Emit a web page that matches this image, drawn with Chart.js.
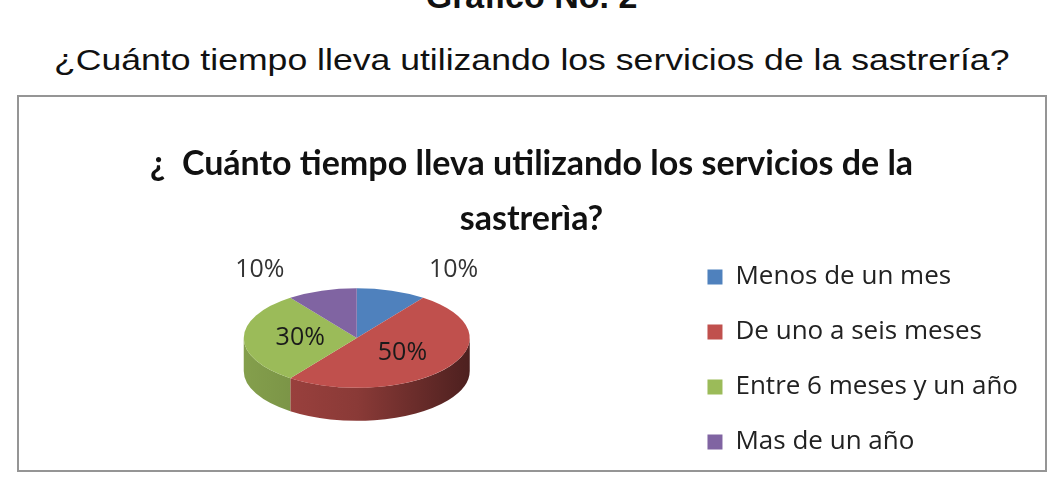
<!DOCTYPE html>
<html>
<head>
<meta charset="utf-8">
<script src="https://cdn.jsdelivr.net/npm/chart.js@4.4.0/dist/chart.umd.min.js"></script>
<style>
  body { margin: 0; background: #fff; width: 1063px; height: 485px; overflow: hidden; position: relative;
         font-family: "Liberation Sans", Arial, sans-serif; }
  #head { position: absolute; left: 0; top: -21px; width: 1063px; text-align: center;
          font-weight: bold; font-size: 34px; line-height: 34px; color: #111; }
  #sub { position: absolute; left: 0; top: 42px; width: 1063px; text-align: center;
         font-size: 30px; line-height: 36px; color: #111; white-space: nowrap; }
  #sub span { display: inline-block; transform-origin: center; }
  #box { position: absolute; left: 17px; top: 95px; width: 1026px; height: 373px; border: 2px solid #959595; }
  #box canvas { position: absolute; left: 0; top: 0; }
</style>
</head>
<body>
<div id="head">Gráfico No. 2</div>
<div id="sub"><span id="subText">¿Cuánto tiempo lleva utilizando los servicios de la sastrería?</span></div>
<div id="box"><canvas id="pieChart" width="1026" height="388"></canvas></div>
<script>
// ---- data ----
const categories = ["Menos de un mes", "De uno a seis meses", "Entre 6 meses y un año", "Mas de un año"];
const values = [10, 50, 30, 10];
const pctLabels = ["10%", "50%", "30%", "10%"];
const colors = ["#4F81BD", "#C0504D", "#9BBB59", "#8064A2"];
const titleLines = ["¿  Cuánto tiempo lleva utilizando los servicios de la", "sastrerìa?"];

// squeeze the page subtitle to the width it has in the document
const sub = document.getElementById("subText");
sub.style.transform = "scaleX(" + (955 / sub.offsetWidth) + ")";

const TILT = 0.44;    // ellipse height / width
const DEPTH = 33;     // thickness of the pie

function shade(hex, f) {
  const n = parseInt(hex.slice(1), 16);
  const r = (n >> 16) & 255, g = (n >> 8) & 255, b = n & 255;
  return "rgb(" + Math.round(r * f) + "," + Math.round(g * f) + "," + Math.round(b * f) + ")";
}

function pieGeom(chart) {
  const a0 = chart.getDatasetMeta(0).data[0];
  const rx = a0.outerRadius;
  return { ox: a0.x, oy: a0.y, cx: a0.x, cy: a0.y - DEPTH * 0.65, rx: rx, ry: rx * TILT };
}

// fake 3d pie: walls drawn first, then the library arcs squashed into an ellipse
const pie3d = {
  id: "pie3d",
  beforeDatasetsDraw(chart) {
    const ctx = chart.ctx;
    const arcs = chart.getDatasetMeta(0).data;
    const p = pieGeom(chart);
    ctx.save();
    arcs.forEach(function(arc, i) {
      // only the front half of the rim is visible
      for (let k = -1; k <= 1; k++) {
        const lo = Math.max(arc.startAngle, 2 * Math.PI * k);
        const hi = Math.min(arc.endAngle, 2 * Math.PI * k + Math.PI);
        if (hi <= lo) continue;
        const g = ctx.createLinearGradient(p.cx - p.rx, 0, p.cx + p.rx, 0);
        g.addColorStop(0, shade(colors[i], 0.85));
        g.addColorStop(0.5, shade(colors[i], 0.72));
        g.addColorStop(1, shade(colors[i], 0.4));
        ctx.beginPath();
        ctx.ellipse(p.cx, p.cy, p.rx, p.ry, 0, lo, hi);
        ctx.ellipse(p.cx, p.cy + DEPTH, p.rx, p.ry, 0, hi, lo, true);
        ctx.closePath();
        ctx.fillStyle = g;
        ctx.fill();
      }
    });
    ctx.translate(p.cx, p.cy);
    ctx.scale(1, TILT);
    ctx.translate(-p.ox, -p.oy);
  },
  afterDatasetsDraw(chart) {
    const ctx = chart.ctx;
    ctx.restore();
    const arcs = chart.getDatasetMeta(0).data;
    const p = pieGeom(chart);
    const total = values.reduce(function(s, v) { return s + v; }, 0);
    ctx.save();
    ctx.font = "25px 'Open Sans'";
    ctx.textAlign = "center";
    ctx.textBaseline = "middle";
    arcs.forEach(function(arc, i) {
      const mid = (arc.startAngle + arc.endAngle) / 2;
      let x, y;
      if (values[i] / total >= 0.2) {
        x = p.cx + Math.cos(mid) * p.rx * 0.5;
        y = p.cy + Math.sin(mid) * p.ry * 0.5;
        ctx.fillStyle = "#1a1a1a";
      } else {
        x = p.cx + Math.cos(mid) * p.rx + Math.sign(Math.cos(mid)) * 62;
        y = p.cy + Math.sin(mid) * p.ry - 21;
        ctx.fillStyle = "#333";
      }
      ctx.fillText(pctLabels[i], x, y);
    });
    ctx.restore();
  }
};

new Chart(document.getElementById("pieChart"), {
  type: "pie",
  data: {
    labels: categories,
    datasets: [{
      data: values,
      backgroundColor: colors,
      borderWidth: 0,
      radius: 113,
      clip: false
    }]
  },
  options: {
    responsive: false,
    animation: false,
    events: [],
    layout: { padding: { left: 16, right: 17, top: 0, bottom: 0 } },
    plugins: {
      title: {
        display: true,
        text: titleLines,
        color: "#111",
        font: { family: "Lato", size: 34, weight: "bold", lineHeight: 1.6176 },
        padding: { top: 40, bottom: -13 }
      },
      legend: {
        position: "right",
        fullSize: false,
        labels: {
          boxWidth: 15,
          boxHeight: 15,
          padding: 29,
          color: "#222",
          font: { family: "Open Sans", size: 26 }
        }
      },
      tooltip: { enabled: false }
    }
  },
  plugins: [pie3d]
});
</script>
</body>
</html>
